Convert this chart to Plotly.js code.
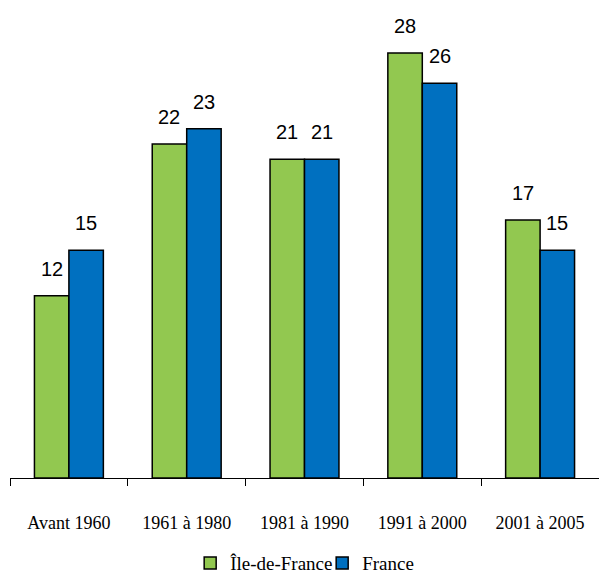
<!DOCTYPE html>
<html><head><meta charset="utf-8">
<script src="https://cdn.plot.ly/plotly-3.0.1.min.js"></script>
<style>html,body{margin:0;padding:0;background:#fff}</style>
</head><body>
<div id="chart" style="width:599px;height:574px"></div>
<script>
const categories = ["Avant 1960", "1961 à 1980", "1981 à 1990", "1991 à 2000", "2001 à 2005"];
const idfValues = [12, 22, 21, 28, 17];
const franceValues = [15, 23, 21, 26, 15];
const seriesNames = ["Île-de-France", "France"];

const green = "#92C850", blue = "#0070C0";
const traces = [
  {type: "bar", name: seriesNames[0], x: categories, y: idfValues,
   marker: {color: green, line: {color: "#000", width: 1.5}}},
  {type: "bar", name: seriesNames[1], x: categories, y: franceValues,
   marker: {color: blue, line: {color: "#000", width: 1.5}}}
];

const annotations = [];
[[idfValues, -17.3], [franceValues, 17.3]].forEach(([vals, dx]) => {
  vals.forEach((v, i) => annotations.push({
    x: categories[i], y: v, text: String(v), showarrow: false,
    xanchor: "center", yanchor: "bottom", xshift: dx, yshift: 14,
    font: {family: "Liberation Sans, Arial, sans-serif", size: 20, color: "#000"}
  }));
});

const layout = {
  width: 599, height: 574,
  margin: {l: 10, r: 0, t: 10, b: 96, autoexpand: false},
  paper_bgcolor: "#fff", plot_bgcolor: "#fff",
  barmode: "group", bargap: 0.415, bargroupgap: 0,
  showlegend: true,
  legend: {orientation: "h", x: 0.53, xanchor: "center", y: -0.182, yanchor: "middle",
    font: {family: "Liberation Serif, Times New Roman, serif", size: 19, color: "#000"},
    itemwidth: 30, entrywidth: 87, entrywidthmode: "pixels", traceorder: "normal"},
  xaxis: {type: "category", showline: true, linecolor: "#000", linewidth: 1,
    ticks: "outside", tickson: "boundaries", ticklen: 7, tickcolor: "#000", tickwidth: 1,
    ticklabelstandoff: 28,
    tickfont: {family: "Liberation Serif, Times New Roman, serif", size: 18, color: "#000"},
    showgrid: false, zeroline: false, fixedrange: true},
  yaxis: {range: [0, 30.83], visible: false, showgrid: false, zeroline: false, fixedrange: true},
  annotations: annotations
};
Plotly.newPlot("chart", traces, layout, {displayModeBar: false, staticPlot: true});
</script>
</body></html>
